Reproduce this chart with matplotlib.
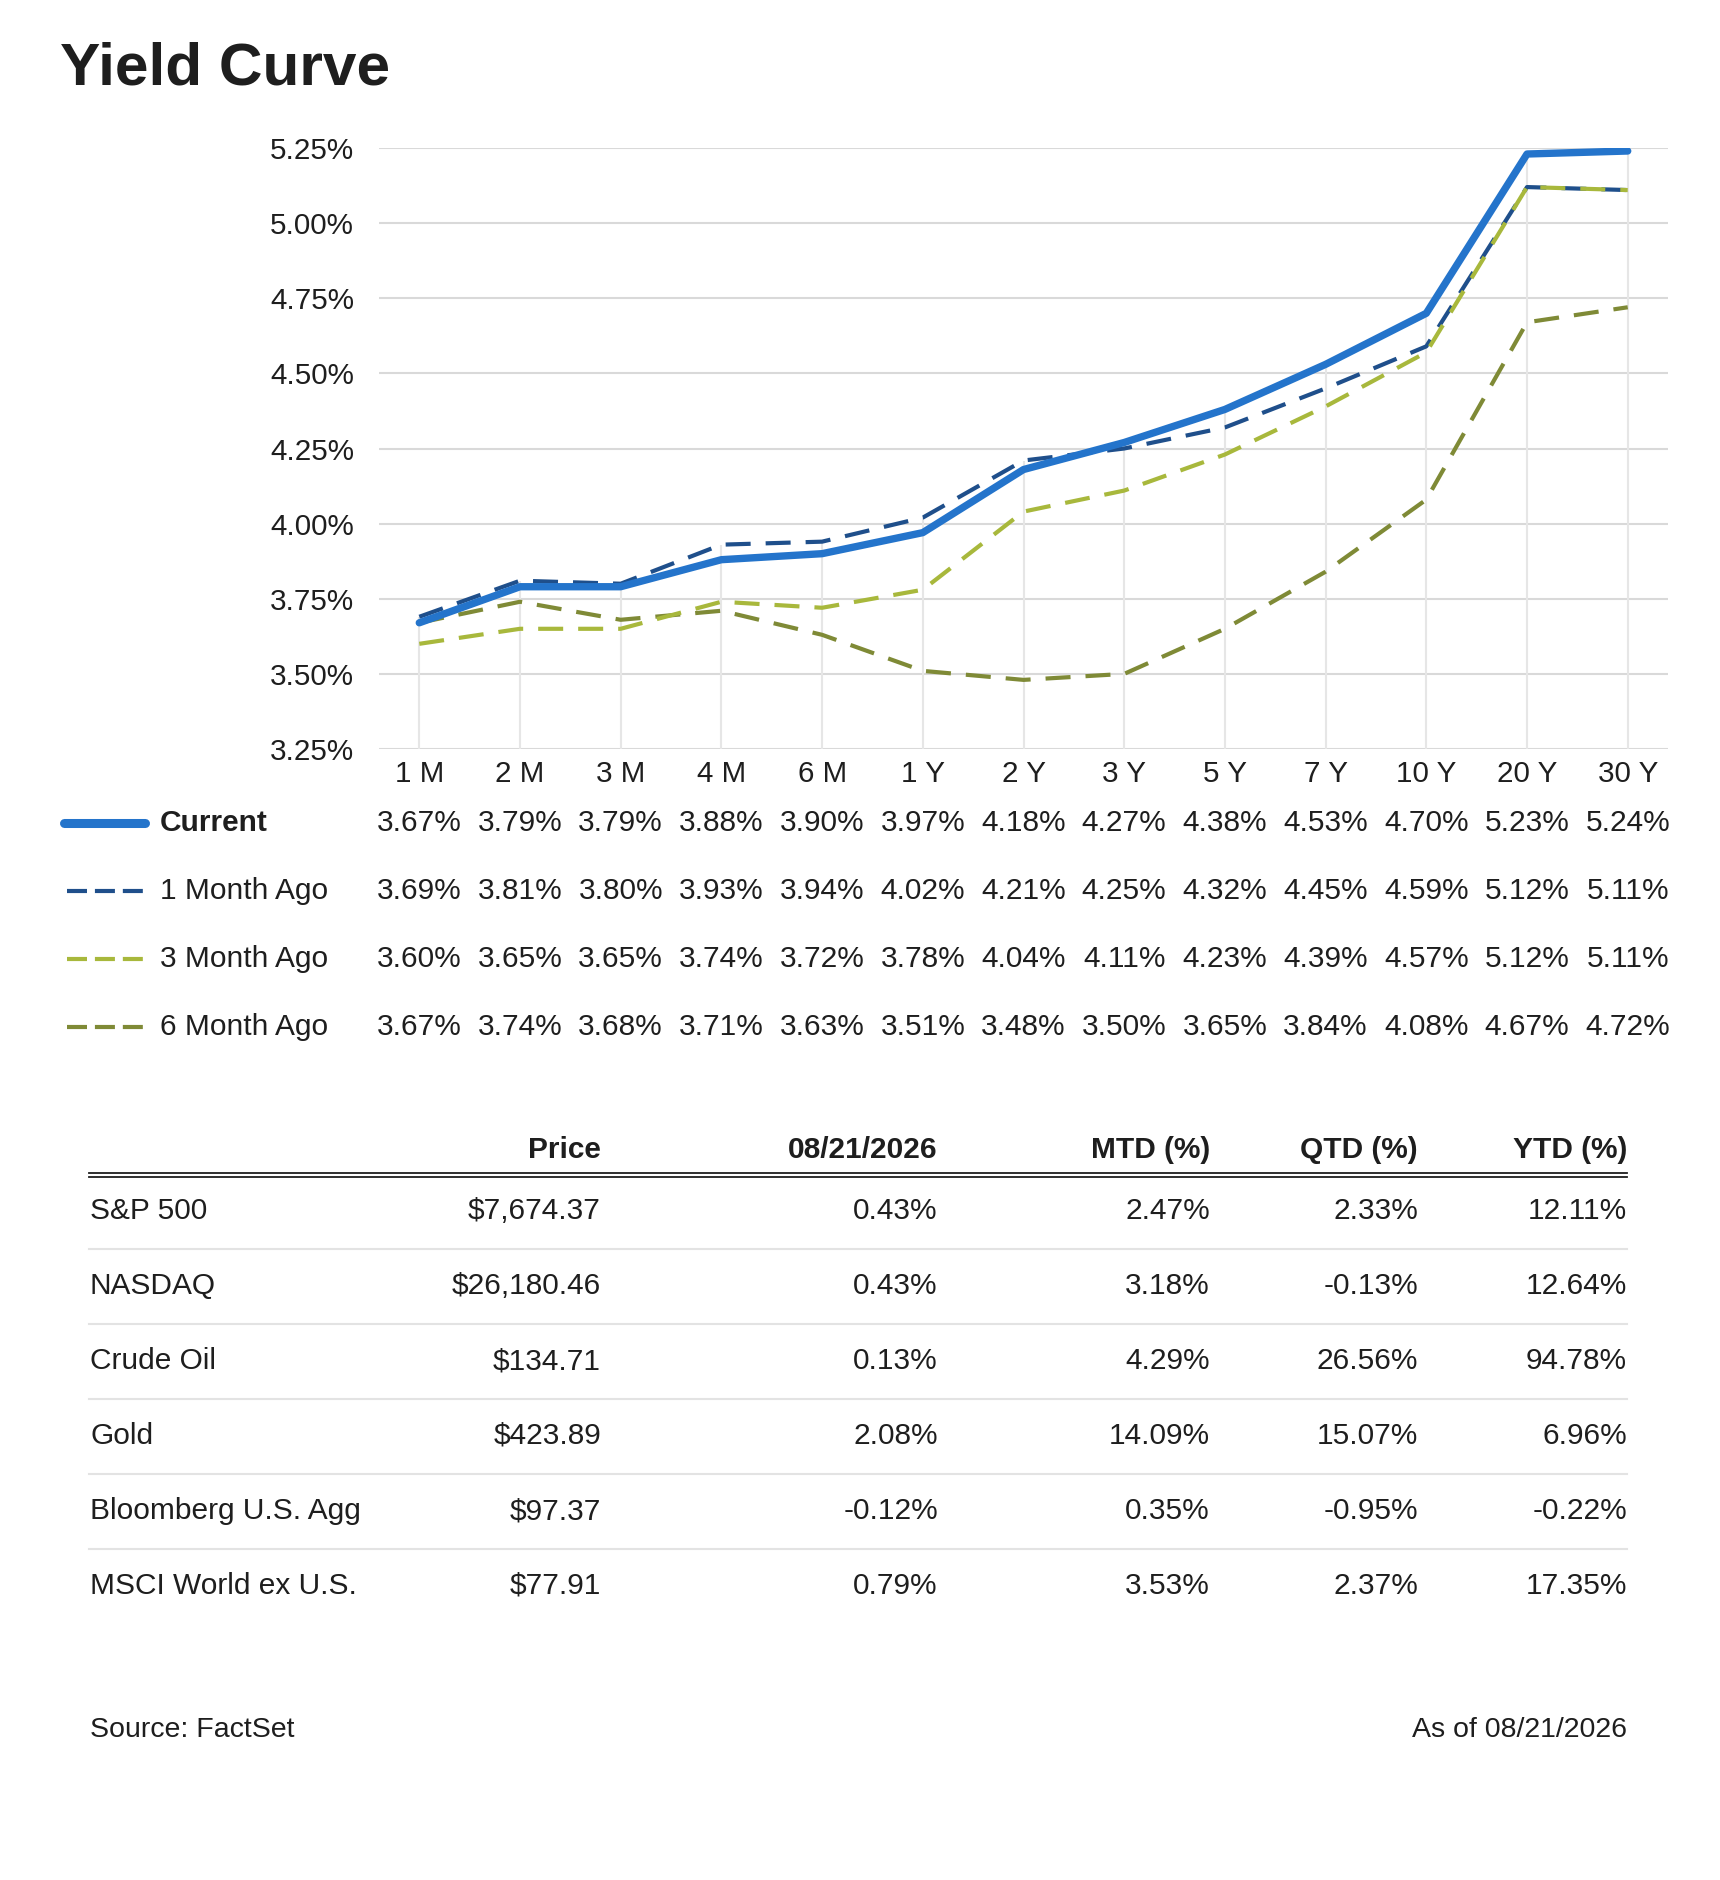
import matplotlib
matplotlib.use('Agg')
import matplotlib.pyplot as plt
from matplotlib.lines import Line2D
import matplotlib.transforms as mtransforms

plt.rcParams['font.family'] = ['Liberation Sans', 'DejaVu Sans']

# yield curve data
tenors = ['1 M', '2 M', '3 M', '4 M', '6 M', '1 Y', '2 Y', '3 Y', '5 Y', '7 Y', '10 Y', '20 Y', '30 Y']
current = [3.67, 3.79, 3.79, 3.88, 3.90, 3.97, 4.18, 4.27, 4.38, 4.53, 4.70, 5.23, 5.24]
month_1 = [3.69, 3.81, 3.80, 3.93, 3.94, 4.02, 4.21, 4.25, 4.32, 4.45, 4.59, 5.12, 5.11]
month_3 = [3.60, 3.65, 3.65, 3.74, 3.72, 3.78, 4.04, 4.11, 4.23, 4.39, 4.57, 5.12, 5.11]
month_6 = [3.67, 3.74, 3.68, 3.71, 3.63, 3.51, 3.48, 3.50, 3.65, 3.84, 4.08, 4.67, 4.72]
y_ticks = [3.25, 3.50, 3.75, 4.00, 4.25, 4.50, 4.75, 5.00, 5.25]

# market table data
col_heads = ['Price', '08/21/2026', 'MTD (%)', 'QTD (%)', 'YTD (%)']
names = ['S&P 500', 'NASDAQ', 'Crude Oil', 'Gold', 'Bloomberg U.S. Agg', 'MSCI World ex U.S.']
prices = ['$7,674.37', '$26,180.46', '$134.71', '$423.89', '$97.37', '$77.91']
day_chg = ['0.43%', '0.43%', '0.13%', '2.08%', '-0.12%', '0.79%']
mtd = ['2.47%', '3.18%', '4.29%', '14.09%', '0.35%', '3.53%']
qtd = ['2.33%', '-0.13%', '26.56%', '15.07%', '-0.95%', '2.37%']
ytd = ['12.11%', '12.64%', '94.78%', '6.96%', '-0.22%', '17.35%']

W, H = 1720, 1880
TXT = '#1e1e1e'
FS = 21.5


def fx(px):
    return px / W


def fy(px):
    return 1 - px / H


fig = plt.figure(figsize=(W / 100, H / 100), dpi=100)
fig.patch.set_facecolor('white')

fig.text(fx(60), fy(69), 'Yield Curve', fontsize=43.5, fontweight='bold', color=TXT, ha='left', va='center')

ax = fig.add_axes([fx(379), fy(749), fx(1668) - fx(379), fy(148) - fy(749)])
x = list(range(len(tenors)))

for v in y_ticks:
    ax.axhline(v, color='#d9d9d9', lw=1.5, zorder=0)
tops = [max(a, b, c, d) for a, b, c, d in zip(current, month_1, month_3, month_6)]
ax.vlines(x, y_ticks[0], tops, color='#e6e6e6', lw=1.5, zorder=0)

series = [
    ('6 Month Ago', month_6, '#7f8a36'),
    ('1 Month Ago', month_1, '#1f4f8b'),
    ('3 Month Ago', month_3, '#a8b83c'),
]
for lab, vals, col in series:
    ax.plot(x, vals, color=col, lw=3, ls=(0, (6, 3.6)), zorder=3)
ax.plot(x, current, color='#2474cb', lw=5.3, solid_capstyle='round', solid_joinstyle='round', zorder=4)

ax.set_xlim(-0.4, len(tenors) - 0.6)
ax.set_ylim(y_ticks[0], y_ticks[-1])
ax.set_xticks(x)
ax.set_xticklabels(tenors)
ax.set_yticks(y_ticks)
ax.set_yticklabels(['%.2f%%' % v for v in y_ticks])
ax.tick_params(axis='both', length=0, labelsize=21.3, colors=TXT)
ax.tick_params(axis='y', pad=18)
ax.tick_params(axis='x', pad=8)
for s in ax.spines.values():
    s.set_visible(False)
ax.set_facecolor('none')

# legend rows with values under each tenor
trans = mtransforms.blended_transform_factory(ax.transData, fig.transFigure)
rows = [
    ('Current', current, '#2474cb', 823),
    ('1 Month Ago', month_1, '#1f4f8b', 891),
    ('3 Month Ago', month_3, '#a8b83c', 959),
    ('6 Month Ago', month_6, '#7f8a36', 1027),
]
for lab, vals, col, py in rows:
    if lab == 'Current':
        fig.add_artist(Line2D([fx(64), fx(145)], [fy(py), fy(py)], color=col, lw=6.5,
                              solid_capstyle='round', transform=fig.transFigure))
        fig.text(fx(160), fy(py), lab, fontsize=FS, fontweight='bold', color=TXT, va='center')
    else:
        fig.add_artist(Line2D([fx(67), fx(144)], [fy(py), fy(py)], color=col, lw=3,
                              ls=(0, (4.8, 1.9)), transform=fig.transFigure))
        fig.text(fx(160), fy(py), lab, fontsize=FS, color=TXT, va='center')
    for i, v in enumerate(vals):
        ax.text(i, fy(py), '%.2f%%' % v, transform=trans, fontsize=FS, color=TXT,
                ha='center', va='center', clip_on=False)

# table
col_right = [601, 938, 1210, 1418, 1627]
tab_left = 89
head_y = 1150
for h, cx in zip(col_heads, col_right):
    fig.text(fx(cx), fy(head_y), h, fontsize=FS, fontweight='bold', color=TXT, ha='right', va='center')
for ly in (1173, 1177):
    fig.add_artist(Line2D([fx(tab_left), fx(col_right[-1])], [fy(ly), fy(ly)], color='#1e1e1e',
                          lw=1.3, transform=fig.transFigure))

row_y0, row_step = 1211, 75
cols = [prices, day_chg, mtd, qtd, ytd]
for r, nm in enumerate(names):
    ry = row_y0 + r * row_step
    fig.text(fx(tab_left + 1), fy(ry), nm, fontsize=FS, color=TXT, ha='left', va='center')
    for vals, cx in zip(cols, col_right):
        fig.text(fx(cx), fy(ry), vals[r], fontsize=FS, color=TXT, ha='right', va='center')
    if r < len(names) - 1:
        sy = ry + 38
        fig.add_artist(Line2D([fx(tab_left), fx(col_right[-1])], [fy(sy), fy(sy)], color='#e3e3e3',
                              lw=1.5, transform=fig.transFigure))

fig.text(fx(90), fy(1730), 'Source: FactSet', fontsize=20.5, color=TXT, ha='left', va='center')
fig.text(fx(1627), fy(1730), 'As of 08/21/2026', fontsize=20.5, color=TXT, ha='right', va='center')

fig.savefig('out.png', dpi=100, facecolor='white')
